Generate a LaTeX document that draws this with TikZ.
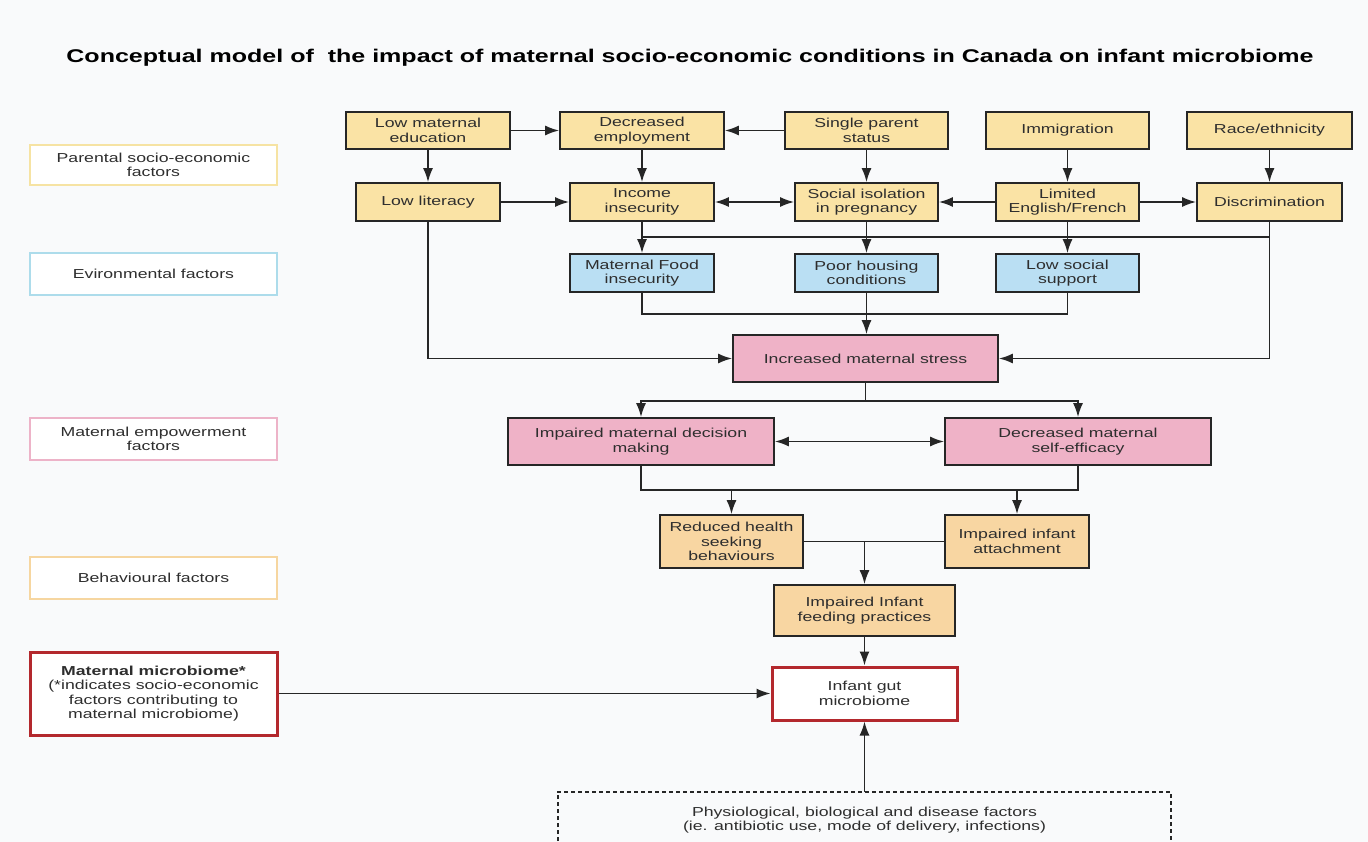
\documentclass[tikz,border=0pt]{standalone}
\usepackage{fontspec}
\setmainfont[FakeStretch=1.36]{Liberation Sans}
\usetikzlibrary{arrows.meta}
\definecolor{bg}{HTML}{F9FAFB}
\definecolor{ylw}{HTML}{FAE3A5}
\definecolor{blu}{HTML}{BADFF3}
\definecolor{pnk}{HTML}{EFB2C7}
\definecolor{org}{HTML}{F8D6A2}
\definecolor{dred}{HTML}{B3282D}
\definecolor{lylw}{HTML}{F6E3A3}
\definecolor{lblu}{HTML}{ADDCEB}
\definecolor{lpnk}{HTML}{EDB3C8}
\definecolor{lorg}{HTML}{F6D6A0}
\definecolor{txt}{HTML}{2E2E2E}
\begin{document}
\begin{tikzpicture}[x=1pt,y=-1pt,
  base/.style={align=center, inner sep=0pt, text=txt, font=\fontsize{13}{14.5}\selectfont},
  box/.style={base, draw=black!85, line width=1.7pt},
  ybox/.style={box, fill=ylw},
  bbox/.style={box, fill=blu},
  pbox/.style={box, fill=pnk},
  obox/.style={box, fill=org},
  legend/.style={base, fill=white, line width=2.6pt, minimum width=247},
  conn/.style={line width=1.7pt, black!85},
  arr/.style={conn, -{Latex[length=14pt,width=10pt]}},
  darr/.style={conn, {Latex[length=14pt,width=10pt]}-{Latex[length=14pt,width=10pt]}}
]
\useasboundingbox[fill=bg] (0,0) rectangle (1368,842);

\node[base, font=\bfseries\fontsize{18.4}{21}\selectfont, text=black] (title) at (690,58)
  {Conceptual model of\ \ the impact of maternal socio-economic conditions in Canada on infant microbiome};

% legend
\node[legend, draw=lylw, minimum height=40] (lg1) at (153.5,165) {Parental socio-economic\\factors};
\node[legend, draw=lblu, minimum height=42] (lg2) at (153.5,274) {Evironmental factors};
\node[legend, draw=lpnk, minimum height=42] (lg3) at (153.5,439) {Maternal empowerment\\factors};
\node[legend, draw=lorg, minimum height=42] (lg4) at (153.5,578) {Behavioural factors};
\node[legend, draw=dred, line width=3pt, minimum height=83] (micro) at (153.5,693.5)
  {\textbf{Maternal microbiome*}\\(*indicates socio-economic\\factors contributing to\\maternal microbiome)};

% row 1
\node[ybox, minimum width=164, minimum height=37] (lme) at (428,130.5) {Low maternal\\education};
\node[ybox, minimum width=164, minimum height=37] (de) at (642,130.5) {Decreased\\employment};
\node[ybox, minimum width=163, minimum height=37] (sps) at (866.5,130.5) {Single parent\\status};
\node[ybox, minimum width=163, minimum height=37] (imm) at (1067.5,130.5) {Immigration};
\node[ybox, minimum width=165, minimum height=37] (race) at (1269.5,130.5) {Race/ethnicity};
% row 2
\node[ybox, minimum width=144, minimum height=38] (ll) at (428,202) {Low literacy};
\node[ybox, minimum width=144, minimum height=38] (inc) at (642,202) {Income\\insecurity};
\node[ybox, minimum width=143, minimum height=38] (soc) at (866.5,202) {Social isolation\\in pregnancy};
\node[ybox, minimum width=143, minimum height=38] (lef) at (1067.5,202) {Limited\\English/French};
\node[ybox, minimum width=145, minimum height=38] (disc) at (1269.5,202) {Discrimination};
% row 3
\node[bbox, minimum width=144, minimum height=38] (food) at (642,273) {Maternal Food\\insecurity};
\node[bbox, minimum width=143, minimum height=38] (house) at (866.5,273) {Poor housing\\conditions};
\node[bbox, minimum width=143, minimum height=38] (lss) at (1067.5,273) {Low social\\support};
% stress
\node[pbox, minimum width=265, minimum height=47] (stress) at (865.5,358.5) {Increased maternal stress};
\node[pbox, minimum width=266, minimum height=47] (dec) at (641,441.5) {Impaired maternal decision\\making};
\node[pbox, minimum width=266, minimum height=47] (self) at (1078,441.5) {Decreased maternal\\self-efficacy};
% behaviour
\node[obox, minimum width=143, minimum height=53] (red) at (731.5,541.5) {Reduced health\\seeking\\behaviours};
\node[obox, minimum width=144, minimum height=53] (att) at (1017,541.5) {Impaired infant\\attachment};
\node[obox, minimum width=181, minimum height=51] (feed) at (864.5,610.5) {Impaired Infant\\feeding practices};
\node[base, fill=white, draw=dred, line width=3pt, minimum width=185, minimum height=53] (gut) at (864.5,693.5) {Infant gut\\microbiome};
\node[base, minimum width=613, minimum height=56] (phys) at (864.5,820)
  {Physiological, biological and disease factors\\(ie. antibiotic use, mode of delivery, infections)};
\draw[line width=1.5pt, black!85, dash pattern=on 4pt off 3pt]
  (phys.south west) -- (phys.north west) -- (phys.north east) -- (phys.south east);

% connectors row 1 / 2
\draw[arr] (lme) -- (de);
\draw[arr] (sps) -- (de);
\draw[arr] (lme) -- (ll);
\draw[arr] (de) -- (inc);
\draw[arr] (sps) -- (soc);
\draw[arr] (imm) -- (lef);
\draw[arr] (race) -- (disc);
\draw[arr] (ll) -- (inc);
\draw[darr] (inc) -- (soc);
\draw[arr] (lef) -- (soc);
\draw[arr] (lef) -- (disc);

% bus to environmental
\coordinate (b1) at (0,237);
\draw[conn] (inc |- b1) -- (disc |- b1);
\draw[arr] (inc) -- (food);
\draw[arr] (soc) -- (house);
\draw[arr] (lef) -- (lss);
\draw[arr] (disc.south) |- (stress.east);
\draw[arr] (ll.south) |- (stress.west);
\draw[conn] (food.south) -- ++(0,21) -| (lss.south);
\draw[arr] (house.south) -- (house.south |- stress.north);

% stress to empowerment
\draw[arr] (stress.south) -- ++(0,18) -| (dec.north);
\draw[arr] (stress.south) -- ++(0,18) -| (self.north);
\draw[darr] (dec) -- (self);
\coordinate (b2) at (0,490);
\draw[conn] (dec.south) |- (b2 -| self.south) -- (self.south);
\draw[arr] (red.north |- b2) -- (red.north);
\draw[arr] (att.north |- b2) -- (att.north);

% behaviour to feeding
\draw[conn] (red.east) -- (att.west);
\draw[arr] (feed.north |- red.east) -- (feed.north);
\draw[arr] (feed) -- (gut);
\draw[arr] (micro) -- (gut);
\draw[arr] (phys.north) -- (gut.south);
\end{tikzpicture}
\end{document}
